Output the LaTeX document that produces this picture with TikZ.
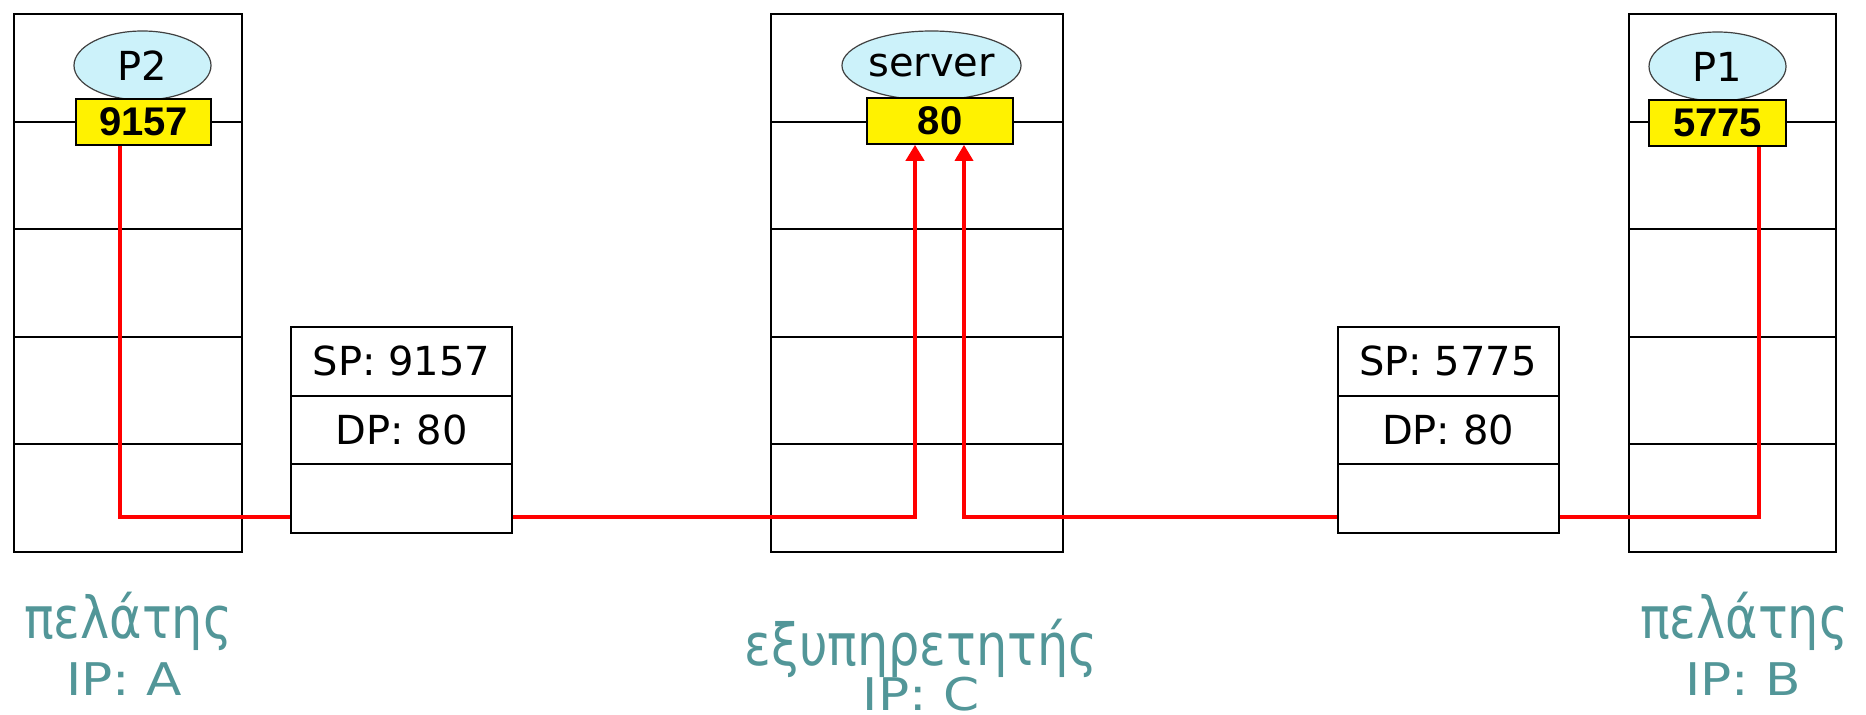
\documentclass[tikz,border=0pt]{standalone}
\usepackage{fontspec}
\usetikzlibrary{shapes.geometric,arrows.meta}
\setmainfont{DejaVu Sans}
\newfontfamily\procfont{DejaVu Sans}
\newfontfamily\portfont{Liberation Sans}
\newfontfamily\rolefont[FakeStretch=0.85]{DejaVu Sans}
\newfontfamily\ipfont[FakeStretch=1.15]{DejaVu Sans}
\definecolor{procfill}{RGB}{204,242,250}
\definecolor{labelteal}{RGB}{82,150,152}
\definecolor{linkred}{RGB}{255,0,0}

\begin{document}
\begin{tikzpicture}[x=0.5pt,y=-0.5pt,
  layer/.style={draw, line width=1pt, inner sep=0pt, minimum height=53.8pt},
  proc/.style={ellipse, draw=black!75, line width=0.6pt, fill=procfill, inner sep=0pt,
    minimum height=34.5pt, font=\procfont\fontsize{20}{24}\selectfont},
  port/.style={draw, line width=0.8pt, fill=yellow, inner sep=0pt, minimum height=23pt,
    font=\portfont\bfseries\fontsize{20}{24}\selectfont},
  field/.style={draw, fill=white, line width=1pt, inner sep=0pt, minimum width=110.5pt,
    minimum height=34.3pt, font=\fontsize{20}{24}\selectfont},
  link/.style={draw=linkred, line width=2pt},
  tip/.style={-{Triangle[width=9pt,length=8pt]}},
  rolelabel/.style={text=labelteal, font=\rolefont\fontsize{29}{34}\selectfont,
    anchor=base, inner sep=0pt},
  iplabel/.style={text=labelteal, font=\ipfont\fontsize{22.5}{27}\selectfont,
    anchor=base, inner sep=0pt}
]
\fill[white] (0,0) rectangle (1866,715);
\useasboundingbox (0,0) rectangle (1866,715);

% protocol stacks of the three hosts
\foreach \i in {1,...,5} {
  \node[layer, minimum width=114pt]   (A\i) at (128,{14+107.6*(\i-0.5)}) {};
  \node[layer, minimum width=146pt]   (C\i) at (917,{14+107.6*(\i-0.5)}) {};
  \node[layer, minimum width=103.5pt] (B\i) at (1732.5,{14+107.6*(\i-0.5)}) {};
}

% processes and their ports
\node[proc, minimum width=68.5pt] (eA) at (142.5,65.5) {P2};
\node[proc, minimum width=81.5pt] (eC) at (931.5,65.5) {server};
\node[proc, minimum width=68.5pt] (eB) at (1717.5,66.5) {P1};
\node[port, minimum width=67.5pt] (pA) at (143.5,122) {9157};
\node[port, minimum width=73pt]   (pC) at (940,121) {80};
\node[port, minimum width=68.5pt] (pB) at (1717.5,123) {5775};

% paths of the two connections
\coordinate (ka)  at (120,517);
\coordinate (kc1) at (915,517);
\coordinate (kc2) at (964,517);
\coordinate (kb)  at (1759,517);
\draw[link, tip] (pA.south -| ka) -- (ka) -- (kc1) -- (pC.south -| kc1);
\draw[link, tip, line width=1.7pt] (pB.south -| kb) -- (kb) -- (kc2) -- (pC.south -| kc2);

% segment headers on the wire
\node[field] (sa1) at (401.5,361.3) {SP: 9157};
\node[field] (sa2) at (401.5,430)   {DP: 80};
\node[field] (sa3) at (401.5,498.7) {};
\node[field] (sb1) at (1448,361.3)  {SP: 5775};
\node[field] (sb2) at (1448,430)    {DP: 80};
\node[field] (sb3) at (1448,498.7)  {};

% host captions
\node[rolelabel] (ha1) at (128,638)  {πελάτης};
\node[iplabel]   (ha2) at (124,695)  {IP: A};
\node[rolelabel] (hc1) at (921,665)  {εξυπηρετητής};
\node[iplabel]   (hc2) at (921,710)  {IP: C};
\node[rolelabel] (hb1) at (1744,638) {πελάτης};
\node[iplabel]   (hb2) at (1743,695) {IP: B};
\end{tikzpicture}
\end{document}
